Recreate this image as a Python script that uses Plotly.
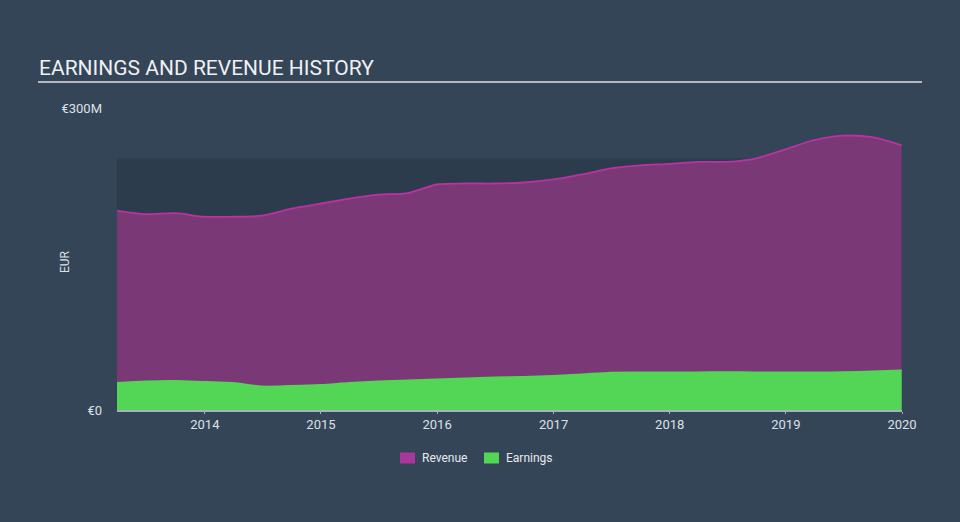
import plotly.graph_objects as go

dates = [
    "2013-03-31", "2013-06-30", "2013-09-30", "2013-12-31",
    "2014-03-31", "2014-06-30", "2014-09-30", "2014-12-31",
    "2015-03-31", "2015-06-30", "2015-09-30", "2015-12-31",
    "2016-03-31", "2016-06-30", "2016-09-30", "2016-12-31",
    "2017-03-31", "2017-06-30", "2017-09-30", "2017-12-31",
    "2018-03-31", "2018-06-30", "2018-09-30", "2018-12-31",
    "2019-03-31", "2019-06-30", "2019-09-30", "2019-12-31",
]
revenue = [198, 194.5, 195.5, 192, 192, 193, 200, 205,
           210, 214, 215.5, 224, 225, 225, 226, 229,
           234, 240, 243, 244.5, 246.5, 246.5, 250, 259,
           268, 272.5, 271, 263]
earnings = [27, 28.5, 29, 28, 27, 23.5, 24, 25,
            27, 28.5, 29.5, 30.5, 31.5, 32.5, 33, 34,
            35.5, 37.3, 37.5, 37.5, 37.6, 37.7, 37.6, 37.5,
            37.5, 37.7, 38.5, 39.5]

y_tickvals = [0, 300]
y_ticktext = ["€0", "€300M"]
x_tickvals = ["2014-01-01", "2015-01-01", "2016-01-01", "2017-01-01",
              "2018-01-01", "2019-01-01", "2020-01-01"]
x_ticktext = ["2014", "2015", "2016", "2017", "2018", "2019", "2020"]
shade_top = 250
legend_names = ["Revenue", "Earnings"]

FONT = "Roboto"
REV_FILL = "#7a3976"
REV_LINE = "#b8339f"
REV_SWATCH = "#a8379a"
EARN = "#53d655"
TICK = "#aab3bd"

L, R, T, B = 117, 58, 108, 112
PW, PH = 960 - L - R, 522 - T - B


def px_x(x):
    return (x - L) / PW


def px_y(y):
    return (522 - B - y) / PH


fig = go.Figure()
fig.add_trace(go.Scatter(
    x=dates, y=revenue, name="Revenue", mode="lines", showlegend=False,
    line=dict(color=REV_LINE, width=1.8, shape="spline", smoothing=0.8),
    fill="tozeroy", fillcolor=REV_FILL,
))
fig.add_trace(go.Scatter(
    x=dates, y=earnings, name="Earnings", mode="lines", showlegend=False,
    line=dict(color=EARN, width=1.5, shape="spline", smoothing=0.8),
    fill="tozeroy", fillcolor=EARN,
))

fig.add_shape(type="rect", xref="x", yref="y", layer="below",
              x0=dates[0], x1="2020-01-01", y0=0, y1=shade_top,
              fillcolor="#2d3c4c", line=dict(width=0))
fig.add_shape(type="line", xref="paper", yref="paper",
              x0=px_x(38), x1=px_x(922), y0=px_y(82), y1=px_y(82),
              line=dict(color="#b4b9bf", width=2))

# x tick marks
for tv in x_tickvals:
    fig.add_shape(type="line", xref="x", yref="y", ysizemode="pixel", yanchor=0,
                  x0=tv, x1=tv, y0=0, y1=-8, line=dict(color=TICK, width=1))

# manual legend
legend_items = [(legend_names[0], REV_SWATCH, 400), (legend_names[1], EARN, 484)]
for name, col, sx in legend_items:
    fig.add_shape(type="rect", xref="paper", yref="paper",
                  x0=px_x(sx), x1=px_x(sx + 15), y0=px_y(452.5), y1=px_y(463.5),
                  fillcolor=col, line=dict(width=0))
    fig.add_annotation(text=name, xref="paper", yref="paper",
                       x=px_x(sx + 20), y=px_y(458), xanchor="left", yanchor="middle",
                       showarrow=False, font=dict(family=FONT, size=12, color="#e6e9ec"))

fig.add_annotation(text="EARNINGS AND REVENUE HISTORY", xref="paper", yref="paper",
                   x=px_x(37), y=px_y(68), xanchor="left", yanchor="middle",
                   showarrow=False, font=dict(family=FONT, size=21, color="#eef0f2"))
fig.add_annotation(text="EUR", xref="paper", yref="paper",
                   x=px_x(65), y=px_y(262), xanchor="center", yanchor="middle",
                   textangle=-90, showarrow=False, font=dict(family=FONT, size=12, color="#dde1e5"))

fig.update_layout(
    width=960, height=522,
    margin=dict(l=L, r=R, t=T, b=B),
    paper_bgcolor="#344558", plot_bgcolor="rgba(0,0,0,0)",
    font=dict(family=FONT, size=12, color="#dde1e5"),
    showlegend=False,
    xaxis=dict(type="date", range=[dates[0], "2020-01-01"], showgrid=False, zeroline=False,
               tickvals=x_tickvals, ticktext=x_ticktext, ticks="outside", ticklen=2,
               tickcolor=TICK, tickwidth=1, showline=True, linecolor=TICK, linewidth=1.5,
               tickfont=dict(family=FONT, size=13, color="#dde1e5")),
    yaxis=dict(range=[0, 300], showgrid=False, zeroline=False, showline=False,
               tickvals=y_tickvals, ticktext=y_ticktext, ticks="",
               ticklabelstandoff=14,
               tickfont=dict(family=FONT, size=13, color="#dde1e5")),
)

fig.write_html("out.html")
